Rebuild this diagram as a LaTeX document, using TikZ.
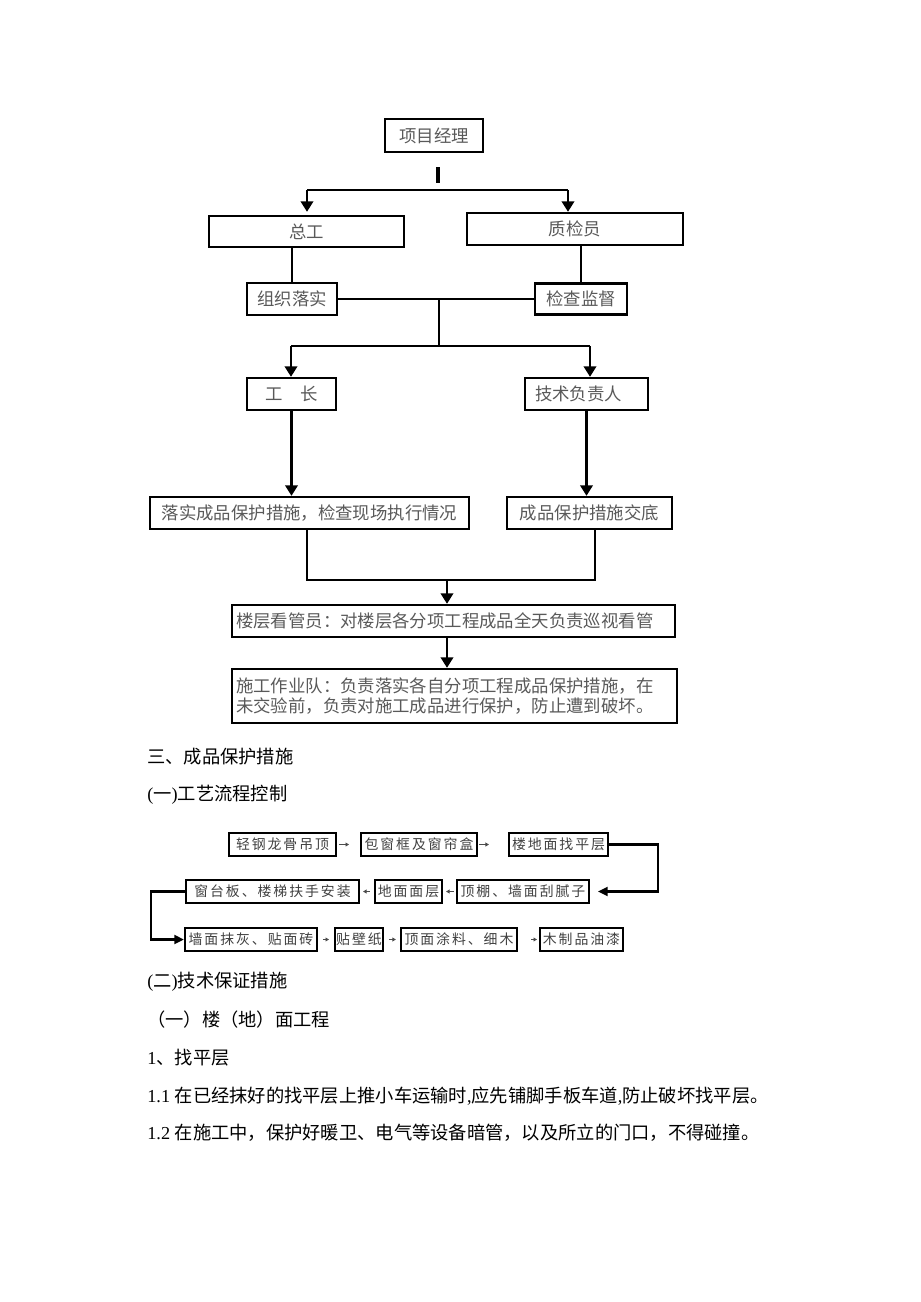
\documentclass[tikz,border=0pt]{standalone}
\usepackage{fontspec}
\setmainfont{Liberation Serif}
\newfontfamily\cjk{Noto Sans CJK SC}
\newfontfamily\cjkwide[LetterSpace=14]{Noto Sans CJK SC}
\newcommand\zh[1]{{\cjk #1}}
\usetikzlibrary{arrows.meta, calc}

\begin{document}
\begin{tikzpicture}[x=0.02cm, y=-0.02cm,
    orgbox/.style={draw, line width=1.3pt, inner sep=0pt, minimum height=0.64cm,
        font=\cjk\fontsize{9.9pt}{12pt}\selectfont, text=black!65},
    flowbox/.style={draw, line width=1.2pt, inner sep=0pt, minimum height=0.46cm,
        font=\cjkwide\fontsize{7.9pt}{9pt}\selectfont, text=black!75},
    body/.style={anchor=west, inner sep=0pt, font=\fontsize{10.4pt}{12.5pt}\selectfont},
    ln/.style={line width=1.5pt},
    arr/.style={line width=1.5pt, -{Triangle[length=6pt,width=7pt]}},
    bigarr/.style={line width=1.4pt, -{Triangle[length=5.5pt,width=5pt]}},
    tinyarr/.style={line width=0.5pt, black!70, -{Triangle[length=2pt,width=2.2pt]}}]
    \useasboundingbox (0,0) rectangle (920,1302);

    % Organisation chart
    \node[orgbox, minimum width=1.96cm, minimum height=0.66cm] (pm) at (434,135.5) {项目经理};
    \node[orgbox, minimum width=3.9cm, minimum height=0.62cm] (zg) at (306.5,231.5) {总工};
    \node[orgbox, minimum width=4.32cm] (zjy) at (575,229) {质检员};
    \node[orgbox, minimum width=1.8cm] (zzls) at (292,299) {组织落实};
    \node[orgbox, minimum width=1.84cm, minimum height=0.62cm] (jcjd) at (581,299) {检查监督};
    \node[orgbox, minimum width=1.78cm] (gz) at (291.5,394) {工　长};
    \node[orgbox, text width=2.06cm, inner xsep=0.2cm, align=left] (jsfzr) at (586.5,394) {技术负责人};
    \node[orgbox, minimum width=6.38cm] (lscp) at (309.5,513) {落实成品保护措施，检查现场执行情况};
    \node[orgbox, minimum width=3.3cm] (cpjd) at (589.5,513) {成品保护措施交底};
    \node[orgbox, text width=8.7cm, inner xsep=0.08cm, align=left] (lcgy) at (453.5,621)
        {楼层看管员：对楼层各分项工程成品全天负责巡视看管};
    \node[orgbox, text width=8.74cm, inner xsep=0.08cm, minimum height=1.08cm, align=left,
        font=\cjk\fontsize{9.9pt}{11.9pt}\selectfont] (sgzyd) at (454.5,696)
        {施工作业队：负责落实各自分项工程成品保护措施，在\\未交验前，负责对施工成品进行保护，防止遭到破坏。};

    % Connections
    \coordinate (t1) at (438,167);
    \coordinate (t2) at (438,183);
    \coordinate (s1) at (307,190);
    \coordinate (s2) at (568,190);
    \draw[line width=1.8pt] (t1) -- (t2);
    \draw[ln] (s1) -- (s2);
    \draw[arr] (s1) -- (s1 |- zjy.north);
    \draw[arr] (s2) -- (s2 |- zjy.north);
    \draw[ln] (zzls.north) -- (zzls.north |- zg.south);
    \draw[ln] (jcjd.north) -- (jcjd.north |- zjy.south);
    \draw[ln] (zzls.east) -- (jcjd.west);

    \coordinate (m1) at (439,299);
    \coordinate (m2) at (439,346);
    \coordinate (l1) at (291,346);
    \coordinate (r1) at (590,346);
    \draw[ln] (m1) -- (m2);
    \draw[ln] (l1) -- (r1);
    \draw[arr] (l1) -- (l1 |- gz.north);
    \draw[arr] (r1) -- (r1 |- jsfzr.north);
    \draw[arr] (gz.south) -- (gz.south |- lscp.north);
    \draw[arr] (jsfzr.south) -- (jsfzr.south |- cpjd.north);

    \coordinate (b1) at (307,580);
    \coordinate (b2) at (595,580);
    \coordinate (m3) at (447,580);
    \draw[ln] (b1 |- lscp.south) -- (b1) -- (b2) -- (b2 |- cpjd.south);
    \draw[arr] (m3) -- (m3 |- lcgy.north);
    \draw[arr] (m3 |- lcgy.south) -- (m3 |- sgzyd.north);

    % Text
    \node[body] (h1) at (147,757) {\zh{三、成品保护措施}};
    \node[body] (h2) at (147,795) {(\zh{一})\zh{工艺流程控制}};
    \node[body] (h3) at (147,982) {(\zh{二})\zh{技术保证措施}};
    \node[body] (h4) at (147,1020) {\zh{（一）楼（地）面工程}};
    \node[body] (h5) at (147,1058) {1\zh{、找平层}};
    \node[body] (h6) at (147,1096) {1.1 \zh{在已经抹好的找平层上推小车运输时},\zh{应先铺脚手板车道},\zh{防止破坏找平层。}};
    \node[body] (h7) at (147,1133) {1.2 \zh{在施工中，保护好暖卫、电气等设备暗管，以及所立的门口，不得碰撞。}};

    % Process flow
    \node[flowbox, minimum width=2.14cm] (f1) at (282.5,844.5) {轻钢龙骨吊顶};
    \node[flowbox, minimum width=2.32cm] (f2) at (419,844.5) {包窗框及窗帘盒};
    \node[flowbox, minimum width=1.98cm] (f3) at (558.5,844.5) {楼地面找平层};
    \node[flowbox, minimum width=3.46cm] (f4) at (272.5,891.5) {窗台板、楼梯扶手安装};
    \node[flowbox, minimum width=1.34cm] (f5) at (408.5,891.5) {地面面层};
    \node[flowbox, minimum width=2.64cm] (f6) at (523,891.5) {顶棚、墙面刮腻子};
    \node[flowbox, minimum width=2.64cm] (f7) at (251,939.5) {墙面抹灰、贴面砖};
    \node[flowbox, minimum width=0.96cm] (f8) at (359,939.5) {贴壁纸};
    \node[flowbox, minimum width=2.32cm] (f9) at (459,939.5) {顶面涂料、细木};
    \node[flowbox, minimum width=1.66cm] (f10) at (581.5,939.5) {木制品油漆};

    \draw[tinyarr, shorten <=1.1pt, shorten >=6.2pt] (f1) -- (f2);
    \draw[tinyarr, shorten <=0.6pt, shorten >=10.8pt] (f2) -- (f3);
    \draw[tinyarr, shorten <=1.1pt, shorten >=1.7pt] (f6) -- (f5);
    \draw[tinyarr, shorten <=2.3pt, shorten >=1.7pt] (f5) -- (f4);
    \draw[tinyarr, shorten <=2.8pt, shorten >=2.8pt] (f7) -- (f8);
    \draw[tinyarr, shorten <=2.8pt, shorten >=2.3pt] (f8) -- (f9);
    \draw[tinyarr, shorten <=7.4pt, shorten >=1.1pt] (f9) -- (f10);

    \coordinate (c1) at (658,844.5);
    \coordinate (c2) at (151,891.5);
    \draw[bigarr, shorten >=4.5pt] (f3.east) -- (c1) |- (f6.east);
    \draw[bigarr] (f4.west) -- (c2) |- (f7.west);
\end{tikzpicture}
\end{document}
